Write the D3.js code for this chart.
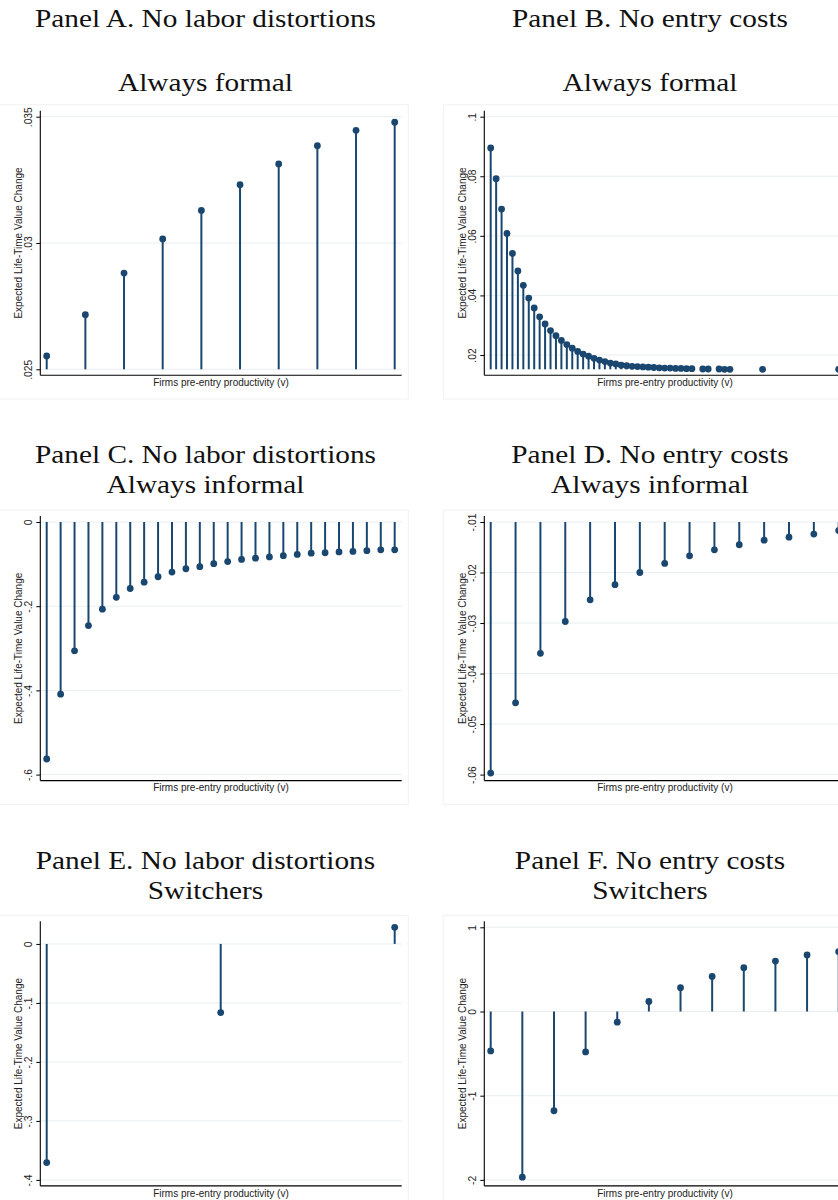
<!DOCTYPE html>
<html><head><meta charset="utf-8">
<script src="https://cdn.jsdelivr.net/npm/d3@7"></script>
<style>html,body{margin:0;padding:0;background:#fff;overflow:hidden}</style>
</head><body>
<svg id="chart" width="838" height="1200"></svg>
<script>
// ---------- data ----------
const panelTitles = ["Panel A. No labor distortions","Panel B. No entry costs",
                     "Panel C. No labor distortions","Panel D. No entry costs",
                     "Panel E. No labor distortions","Panel F. No entry costs"];
const panelSubtitles = ["Always formal","Always formal","Always informal","Always informal","Switchers","Switchers"];
const xAxisTitle = "Firms pre-entry productivity (v)";
const yAxisTitle = "Expected Life-Time Value Change";

// Panel A: always formal, no labor distortions
const aX = [0,1,2,3,4,5,6,7,8,9];
const aValues = [0.02553,0.02716,0.02881,0.03016,0.03129,0.03231,0.03313,0.03385,0.03446,0.03478];
const aTicks = [".025",".03",".035"];

// Panel B: always formal, no entry costs
const bX = [0,1,2,3,4,5,6,7,8,9,10,11,12,13,14,15,16,17,18,19,20,21,22,23,24,25,26,27,28,29,30,31,32,33,34,35,36,37,39,40,42,43,44,50,64];
const bValues = [0.0895,0.0792,0.0690,0.0608,0.0541,0.0482,0.0434,0.0391,0.0358,0.0328,0.0304,0.0282,0.0265,0.0249,0.0235,0.0223,0.0212,0.0203,0.0196,0.0189,0.0183,0.0178,0.0173,0.0170,0.0166,0.0164,0.0162,0.0161,0.0160,0.0159,0.0158,0.0157,0.0156,0.0156,0.0155,0.0155,0.0154,0.0154,0.0153,0.0153,0.0153,0.0152,0.0152,0.0152,0.0152];
const bTicks = [".02",".04",".06",".08",".1"];

// Panel C: always informal, no labor distortions
const cX = [0,1,2,3,4,5,6,7,8,9,10,11,12,13,14,15,16,17,18,19,20,21,22,23,24,25];
const cValues = [-0.563,-0.409,-0.306,-0.246,-0.207,-0.179,-0.158,-0.143,-0.130,-0.119,-0.111,-0.106,-0.099,-0.094,-0.089,-0.086,-0.083,-0.080,-0.077,-0.074,-0.073,-0.071,-0.070,-0.068,-0.066,-0.066];
const cTicks = ["-.6","-.4","-.2","0"];

// Panel D: always informal, no entry costs
const dX = [0,1,2,3,4,5,6,7,8,9,10,11,12,13,14];
const dValues = [-0.0597,-0.0458,-0.0360,-0.0297,-0.0254,-0.0224,-0.0200,-0.0182,-0.0167,-0.0155,-0.0145,-0.0136,-0.0130,-0.0124,-0.0117];
const dTicks = ["-.06","-.05","-.04","-.03","-.02","-.01"];

// Panel E: switchers, no labor distortions
const eX = [0,1,2];
const eValues = [-0.3706,-0.1164,0.0282];
const eTicks = ["-.4","-.3","-.2","-.1","0"];

// Panel F: switchers, no entry costs
const fX = [0,1,2,3,4,5,6,7,8,9,10,11];
const fValues = [-0.468,-1.968,-1.179,-0.480,-0.127,0.119,0.282,0.417,0.520,0.599,0.671,0.710];
const fTicks = ["-2","-1","0","1"];

// ---------- drawing ----------
const svg = d3.select("#chart");
const navy = "#1a476f";
const gridColor = "#e8eff1";
const serif = "'Liberation Serif','Times New Roman',serif";
const sans = "'Liberation Sans',Arial,sans-serif";

const colAxisX = [40.3, 484.3];
const rowInnerTop = [116.7, 522, 927.3];
const innerH = 252.6;
const padL = 6.4, innerW = 348, padR = 7;
const margin = 6;
const colCenter = [205.5, 650];
const titleBase = [[26.7, 90.7],[463.3, 493.3],[868.6, 898.6]];

const panels = [
  {x:aX, v:aValues, t:aTicks, row:0, col:0},
  {x:bX, v:bValues, t:bTicks, row:0, col:1},
  {x:cX, v:cValues, t:cTicks, row:1, col:0},
  {x:dX, v:dValues, t:dTicks, row:1, col:1},
  {x:eX, v:eValues, t:eTicks, row:2, col:0},
  {x:fX, v:fValues, t:fTicks, row:2, col:1}
];

// measure serif scale so titles match the reference width
const probe = svg.append("text").attr("font-family", serif).attr("font-size", 25).text(panelTitles[0]);
const ratio = 341 / probe.node().getComputedTextLength();
probe.remove();

panels.forEach((p, i) => {
  const ax = colAxisX[p.col];
  const top = rowInnerTop[p.row];
  const bottom = top + innerH;
  const g = svg.append("g");

  // faint image border
  g.append("rect")
    .attr("x", p.col === 0 ? -1 : 443.3)
    .attr("y", top - 12)
    .attr("width", p.col === 0 ? 409.3 : 420)
    .attr("height", 294.3)
    .attr("fill", "none").attr("stroke", "#f2f2f2").attr("stroke-width", 1);

  const tickVals = p.t.map(s => +s);
  const lo = Math.min(d3.min(p.v), d3.min(tickVals));
  const hi = Math.max(d3.max(p.v), d3.max(tickVals));
  const y = d3.scaleLinear().domain([lo, hi]).range([bottom, top]);
  const x = d3.scaleLinear().domain(d3.extent(p.x)).range([ax + padL, ax + padL + innerW]);
  const right = ax + padL + innerW + padR;

  // gridlines
  g.selectAll(".grid").data(tickVals).enter().append("line")
    .attr("x1", ax).attr("x2", right)
    .attr("y1", d => y(d)).attr("y2", d => y(d))
    .attr("stroke", gridColor).attr("stroke-width", 1);

  // y axis
  const yAxis = d3.axisLeft(y).tickValues(tickVals).tickSize(4).tickFormat((d, k) => p.t[k]);
  const yg = g.append("g").attr("transform", `translate(${ax},0)`).call(yAxis);
  yg.select(".domain").remove();
  yg.selectAll(".tick line").attr("stroke", "#000").attr("stroke-width", 1);
  yg.selectAll(".tick text")
    .attr("font-family", sans).attr("font-size", 10.3).attr("fill", "#222")
    .attr("x", null).attr("dy", null)
    .attr("text-anchor", "middle")
    .attr("transform", "translate(-8,0) rotate(-90)");
  g.append("line").attr("x1", ax).attr("x2", ax)
    .attr("y1", top - margin).attr("y2", bottom + margin)
    .attr("stroke", "#000").attr("stroke-width", 1.1);
  // x axis
  g.append("line").attr("x1", ax).attr("x2", right)
    .attr("y1", bottom + margin).attr("y2", bottom + margin)
    .attr("stroke", "#000").attr("stroke-width", 1.1);

  // axis titles
  g.append("text").attr("x", (ax + right) / 2).attr("y", bottom + margin + 10.6)
    .attr("text-anchor", "middle").attr("font-family", sans).attr("font-size", 10)
    .attr("fill", "#222").text(xAxisTitle);
  g.append("text")
    .attr("transform", `translate(${ax - 18.8},${(top + bottom) / 2}) rotate(-90)`)
    .attr("text-anchor", "middle").attr("font-family", sans).attr("font-size", 10)
    .attr("fill", "#222").text(yAxisTitle);

  // droplines
  const base = y(Math.max(lo, Math.min(hi, 0)));
  const pts = p.x.map((xv, k) => ({x: xv, v: p.v[k]}));
  g.selectAll(".stem").data(pts).enter().append("line")
    .attr("x1", d => x(d.x)).attr("x2", d => x(d.x))
    .attr("y1", base).attr("y2", d => y(d.v))
    .attr("stroke", navy).attr("stroke-width", 2);
  g.selectAll(".dot").data(pts).enter().append("circle")
    .attr("cx", d => x(d.x)).attr("cy", d => y(d.v)).attr("r", 3.4)
    .attr("fill", navy);

  // titles
  const t1 = svg.append("text").attr("x", colCenter[p.col]).attr("y", titleBase[p.row][0])
    .attr("text-anchor", "middle").attr("font-family", serif).attr("font-size", 25)
    .attr("fill", "#111").text(panelTitles[i]);
  t1.attr("textLength", t1.node().getComputedTextLength() * ratio).attr("lengthAdjust", "spacingAndGlyphs");
  const t2 = svg.append("text").attr("x", colCenter[p.col]).attr("y", titleBase[p.row][1])
    .attr("text-anchor", "middle").attr("font-family", serif).attr("font-size", 25)
    .attr("fill", "#111").text(panelSubtitles[i]);
  t2.attr("textLength", t2.node().getComputedTextLength() * ratio).attr("lengthAdjust", "spacingAndGlyphs");
});
</script>
</body></html>
